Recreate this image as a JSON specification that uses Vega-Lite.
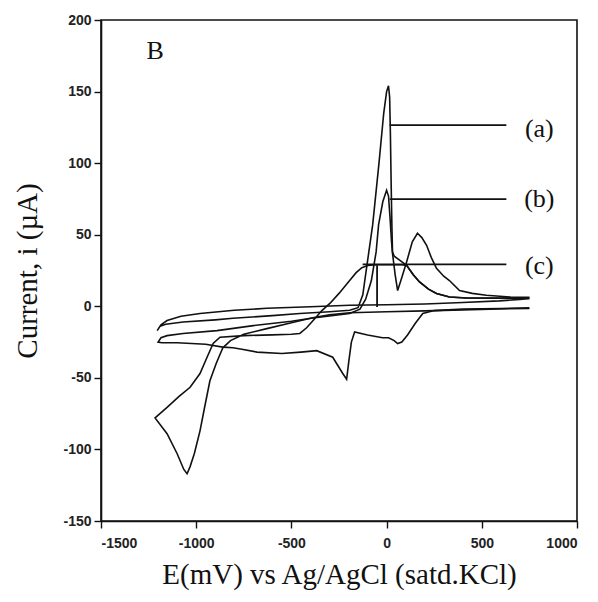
{
  "$schema": "https://vega.github.io/schema/vega-lite/v6.json",
  "width": 476,
  "height": 501,
  "autosize": {"type": "none"},
  "padding": {"left": 101, "top": 20, "right": 21, "bottom": 81},
  "background": "white",
  "config": {
    "view": {"stroke": "#111", "strokeWidth": 1.6},
    "axis": {
      "domainColor": "#111", "domainWidth": 1.6, "tickColor": "#111", "tickWidth": 1.4, "tickSize": 7,
      "grid": false, "labelFont": "Liberation Sans", "labelFontSize": 14, "labelFontWeight": "bold", "labelColor": "#222",
      "titleFont": "Liberation Serif", "titleFontSize": 29, "titleFontWeight": "normal", "titleColor": "#111"
    }
  },
  "datasets": {
    "cv": [
      {"c":"a","o":1,"E":750,"I":5.5},{"c":"a","o":2,"E":700,"I":4.8},{"c":"a","o":3,"E":592,"I":3.8},{"c":"a","o":4,"E":400,"I":2.6},{"c":"a","o":5,"E":200,"I":1.6},{"c":"a","o":6,"E":0,"I":1.1},{"c":"a","o":7,"E":-194,"I":0.7},{"c":"a","o":8,"E":-400,"I":-0.3},{"c":"a","o":9,"E":-629,"I":-1.4},{"c":"a","o":10,"E":-800,"I":-2.8},{"c":"a","o":11,"E":-980,"I":-5},{"c":"a","o":12,"E":-1080,"I":-7},{"c":"a","o":13,"E":-1153,"I":-10},{"c":"a","o":14,"E":-1185,"I":-13},{"c":"a","o":15,"E":-1205,"I":-17},
      {"c":"a","o":16,"E":-1190,"I":-14},{"c":"a","o":17,"E":-1160,"I":-12.5},{"c":"a","o":18,"E":-1069,"I":-11},{"c":"a","o":19,"E":-900,"I":-9.5},{"c":"a","o":20,"E":-807,"I":-8.4},{"c":"a","o":21,"E":-600,"I":-6.5},{"c":"a","o":22,"E":-456,"I":-5},{"c":"a","o":23,"E":-300,"I":-3.8},{"c":"a","o":24,"E":-194,"I":-2.8},{"c":"a","o":25,"E":-150,"I":-1},{"c":"a","o":26,"E":-125,"I":8},{"c":"a","o":27,"E":-105,"I":27},{"c":"a","o":28,"E":-73,"I":57},{"c":"a","o":29,"E":-40,"I":100},{"c":"a","o":30,"E":-15,"I":135},{"c":"a","o":31,"E":0,"I":150},{"c":"a","o":32,"E":10,"I":154},{"c":"a","o":33,"E":16,"I":146},{"c":"a","o":34,"E":20,"I":120},{"c":"a","o":35,"E":24,"I":85},{"c":"a","o":36,"E":28,"I":55},{"c":"a","o":37,"E":31,"I":38},{"c":"a","o":38,"E":40,"I":35},{"c":"a","o":39,"E":70,"I":32},{"c":"a","o":40,"E":105,"I":28.6},{"c":"a","o":41,"E":140,"I":22},{"c":"a","o":42,"E":173,"I":17},{"c":"a","o":43,"E":220,"I":12},{"c":"a","o":44,"E":262,"I":9},{"c":"a","o":45,"E":330,"I":6.5},{"c":"a","o":46,"E":419,"I":5.8},{"c":"a","o":47,"E":600,"I":5.8},{"c":"a","o":48,"E":750,"I":6},
      {"c":"b","o":1,"E":750,"I":-1},{"c":"b","o":2,"E":700,"I":-1.2},{"c":"b","o":3,"E":600,"I":-1.5},{"c":"b","o":4,"E":400,"I":-2},{"c":"b","o":5,"E":250,"I":-3},{"c":"b","o":6,"E":190,"I":-5},{"c":"b","o":7,"E":150,"I":-12},{"c":"b","o":8,"E":110,"I":-20},{"c":"b","o":9,"E":80,"I":-25},{"c":"b","o":10,"E":58,"I":-26},{"c":"b","o":11,"E":40,"I":-24},{"c":"b","o":12,"E":10,"I":-22},{"c":"b","o":13,"E":-21,"I":-22},{"c":"b","o":14,"E":-100,"I":-20},{"c":"b","o":15,"E":-168,"I":-18},{"c":"b","o":16,"E":-185,"I":-25},{"c":"b","o":17,"E":-198,"I":-38},{"c":"b","o":18,"E":-210,"I":-51},{"c":"b","o":19,"E":-231,"I":-46.8},{"c":"b","o":20,"E":-283,"I":-35.6},{"c":"b","o":21,"E":-367,"I":-31},{"c":"b","o":22,"E":-450,"I":-32},{"c":"b","o":23,"E":-550,"I":-33},{"c":"b","o":24,"E":-681,"I":-32},{"c":"b","o":25,"E":-760,"I":-30},{"c":"b","o":26,"E":-807,"I":-29},{"c":"b","o":27,"E":-860,"I":-28.5},{"c":"b","o":28,"E":-950,"I":-26.5},{"c":"b","o":29,"E":-1100,"I":-25.5},{"c":"b","o":30,"E":-1180,"I":-25.5},{"c":"b","o":31,"E":-1200,"I":-25},
      {"c":"b","o":32,"E":-1185,"I":-22},{"c":"b","o":33,"E":-1153,"I":-20.5},{"c":"b","o":34,"E":-1069,"I":-19},{"c":"b","o":35,"E":-891,"I":-17},{"c":"b","o":36,"E":-700,"I":-13.5},{"c":"b","o":37,"E":-500,"I":-10.5},{"c":"b","o":38,"E":-388,"I":-8.2},{"c":"b","o":39,"E":-300,"I":-6.8},{"c":"b","o":40,"E":-194,"I":-5},{"c":"b","o":41,"E":-140,"I":-2},{"c":"b","o":42,"E":-110,"I":5},{"c":"b","o":43,"E":-80,"I":18},{"c":"b","o":44,"E":-55,"I":38},{"c":"b","o":45,"E":-42,"I":57},{"c":"b","o":46,"E":-20,"I":73},{"c":"b","o":47,"E":0,"I":81},{"c":"b","o":48,"E":10,"I":77},{"c":"b","o":49,"E":18,"I":62},{"c":"b","o":50,"E":26,"I":45},{"c":"b","o":51,"E":31,"I":37},{"c":"b","o":52,"E":45,"I":22},{"c":"b","o":53,"E":58,"I":11},{"c":"b","o":54,"E":75,"I":18},{"c":"b","o":55,"E":105,"I":31},{"c":"b","o":56,"E":135,"I":45},{"c":"b","o":57,"E":162,"I":51},{"c":"b","o":58,"E":185,"I":48},{"c":"b","o":59,"E":210,"I":42.6},{"c":"b","o":60,"E":235,"I":34},{"c":"b","o":61,"E":262,"I":26.5},{"c":"b","o":62,"E":300,"I":21},{"c":"b","o":63,"E":330,"I":18},{"c":"b","o":64,"E":383,"I":11},{"c":"b","o":65,"E":450,"I":9},{"c":"b","o":66,"E":524,"I":7.7},{"c":"b","o":67,"E":650,"I":6.5},{"c":"b","o":68,"E":750,"I":6.3},
      {"c":"c","o":1,"E":750,"I":-1.5},{"c":"c","o":2,"E":592,"I":-1.8},{"c":"c","o":3,"E":400,"I":-2.5},{"c":"c","o":4,"E":200,"I":-3.2},{"c":"c","o":5,"E":0,"I":-3.8},{"c":"c","o":6,"E":-194,"I":-4.5},{"c":"c","o":7,"E":-300,"I":-6},{"c":"c","o":8,"E":-388,"I":-8},{"c":"c","o":9,"E":-500,"I":-11.5},{"c":"c","o":10,"E":-629,"I":-15.6},{"c":"c","o":11,"E":-750,"I":-19.5},{"c":"c","o":12,"E":-820,"I":-24},{"c":"c","o":13,"E":-860,"I":-29},{"c":"c","o":14,"E":-895,"I":-40},{"c":"c","o":15,"E":-928,"I":-52},{"c":"c","o":16,"E":-955,"I":-70},{"c":"c","o":17,"E":-980,"I":-87},{"c":"c","o":18,"E":-1010,"I":-103},{"c":"c","o":19,"E":-1032,"I":-112},{"c":"c","o":20,"E":-1048,"I":-117},{"c":"c","o":21,"E":-1065,"I":-114},{"c":"c","o":22,"E":-1100,"I":-103},{"c":"c","o":23,"E":-1153,"I":-89},{"c":"c","o":24,"E":-1216,"I":-78},
      {"c":"c","o":25,"E":-1153,"I":-70.6},{"c":"c","o":26,"E":-1090,"I":-63},{"c":"c","o":27,"E":-1032,"I":-56.6},{"c":"c","o":28,"E":-980,"I":-47},{"c":"c","o":29,"E":-943,"I":-35.6},{"c":"c","o":30,"E":-911,"I":-26},{"c":"c","o":31,"E":-875,"I":-21.6},{"c":"c","o":32,"E":-750,"I":-20.5},{"c":"c","o":33,"E":-600,"I":-20},{"c":"c","o":34,"E":-500,"I":-19.5},{"c":"c","o":35,"E":-456,"I":-19},{"c":"c","o":36,"E":-420,"I":-15},{"c":"c","o":37,"E":-380,"I":-9},{"c":"c","o":38,"E":-340,"I":-3},{"c":"c","o":39,"E":-298,"I":2},{"c":"c","o":40,"E":-250,"I":9},{"c":"c","o":41,"E":-194,"I":18},{"c":"c","o":42,"E":-160,"I":23.5},{"c":"c","o":43,"E":-130,"I":27},{"c":"c","o":44,"E":-100,"I":28.5},{"c":"c","o":45,"E":-50,"I":29},{"c":"c","o":46,"E":0,"I":29},{"c":"c","o":47,"E":50,"I":29},{"c":"c","o":48,"E":80,"I":29},{"c":"c","o":49,"E":105,"I":28.6},{"c":"c","o":50,"E":140,"I":22},{"c":"c","o":51,"E":173,"I":17},{"c":"c","o":52,"E":220,"I":12},{"c":"c","o":53,"E":262,"I":9},{"c":"c","o":54,"E":330,"I":6.5},{"c":"c","o":55,"E":419,"I":5.8},{"c":"c","o":56,"E":600,"I":5.6},{"c":"c","o":57,"E":750,"I":5.5}
    ],
    "leaders": [
      {"E":16,"E2":629,"I":126.5,"I2":126.5},
      {"E":16,"E2":629,"I":74.8,"I2":74.8},
      {"E":-126,"E2":629,"I":29.3,"I2":29.3},
      {"E":-50,"E2":-50,"I":28.6,"I2":-0.5}
    ],
    "labels": [
      {"t":"(a)","E":802,"I":124},
      {"t":"(b)","E":802,"I":75},
      {"t":"(c)","E":802,"I":28},
      {"t":"B","E":-1216,"I":178}
    ]
  },
  "layer": [
    {
      "data": {"name": "cv"},
      "mark": {"type": "line", "color": "#111", "strokeWidth": 1.6, "clip": true},
      "encoding": {
        "x": {"field": "E", "type": "quantitative", "scale": {"domain": [-1500, 1000], "nice": false, "zero": false},
              "axis": {"title": "E(mV) vs Ag/AgCl (satd.KCl)", "values": [-1500, -1000, -500, 0, 500, 1000], "labelExpr": "toString(datum.value)", "labelPadding": 8, "titlePadding": 10}},
        "y": {"field": "I", "type": "quantitative", "scale": {"domain": [-150, 200], "nice": false, "zero": false},
              "axis": {"title": "Current, i (µA)", "values": [-150, -100, -50, 0, 50, 100, 150, 200], "labelExpr": "toString(datum.value)", "labelPadding": 3, "titlePadding": 20}},
        "detail": {"field": "c"},
        "order": {"field": "o", "type": "quantitative"}
      }
    },
    {
      "data": {"name": "leaders"},
      "mark": {"type": "rule", "color": "#111", "strokeWidth": 1.8},
      "encoding": {
        "x": {"field": "E", "type": "quantitative"},
        "x2": {"field": "E2"},
        "y": {"field": "I", "type": "quantitative"},
        "y2": {"field": "I2"}
      }
    },
    {
      "data": {"name": "labels"},
      "mark": {"type": "text", "font": "Liberation Serif", "fontSize": 26, "color": "#111", "align": "center", "baseline": "middle"},
      "encoding": {
        "x": {"field": "E", "type": "quantitative"},
        "y": {"field": "I", "type": "quantitative"},
        "text": {"field": "t"}
      }
    }
  ]
}
